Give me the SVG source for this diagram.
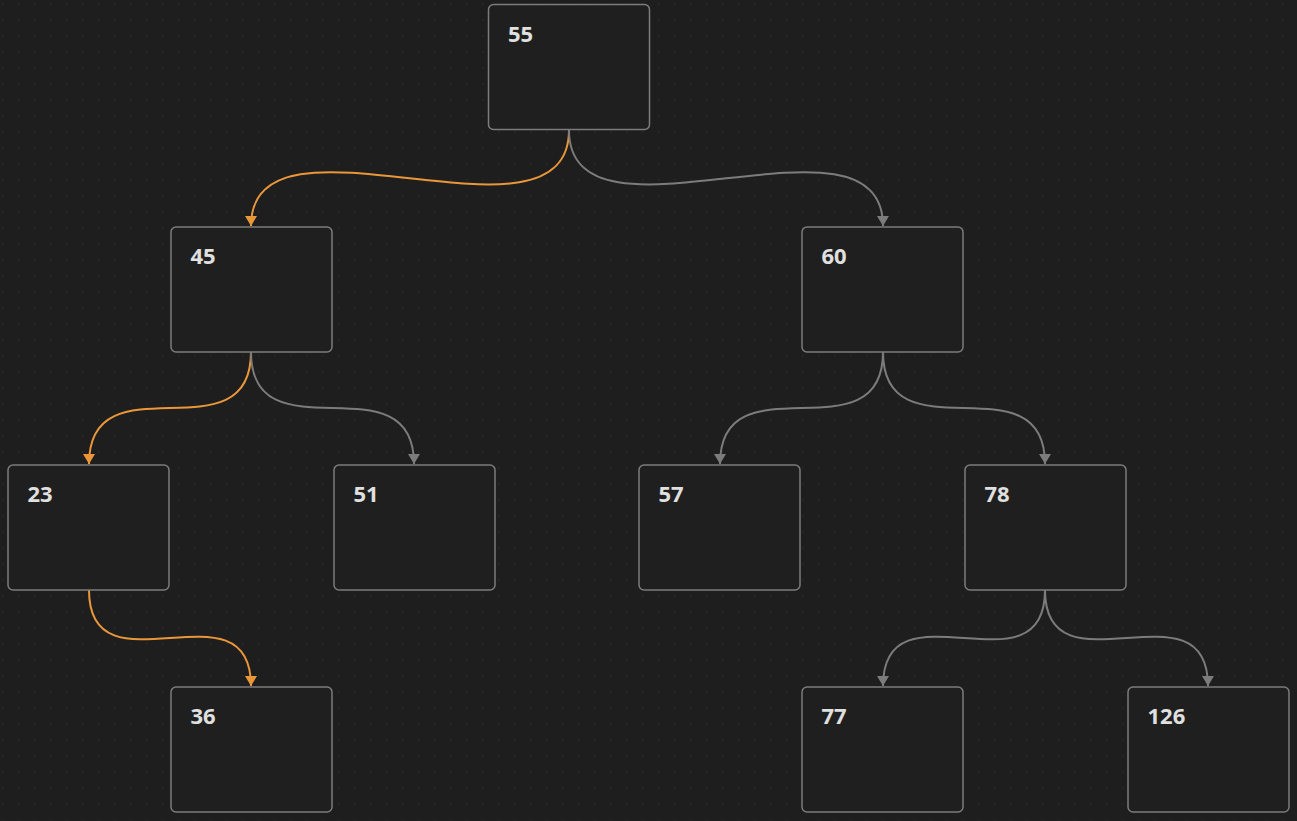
<svg xmlns="http://www.w3.org/2000/svg" width="1297" height="821" viewBox="0 0 1297 821">
<defs>
<pattern id="dots" x="2" y="3" width="16" height="16" patternUnits="userSpaceOnUse">
<circle cx="0.75" cy="0.75" r="0.75" fill="#2c2c2c"/>
</pattern>
<marker id="ao" viewBox="0 0 10 12" refX="10" refY="6" markerWidth="10" markerHeight="12" markerUnits="userSpaceOnUse" orient="auto">
<path d="M0,0 L10,6 L0,12 Z" fill="#ea973a"/>
</marker>
<marker id="ag" viewBox="0 0 10 12" refX="10" refY="6" markerWidth="10" markerHeight="12" markerUnits="userSpaceOnUse" orient="auto">
<path d="M0,0 L10,6 L0,12 Z" fill="#7c7c7c"/>
</marker>
</defs>
<style>
.box{fill:#1f1f1f;stroke:#7c7c7c;stroke-width:1.5}
.lbl{font-family:"Open Sans","Noto Sans",sans-serif;font-weight:700;font-size:22px;fill:#e0e0e0}
.eo{fill:none;stroke:#ea973a;stroke-width:2}
.eg{fill:none;stroke:#7c7c7c;stroke-width:2}
</style>
<rect width="1297" height="821" fill="#1e1e1e"/>
<rect width="1297" height="821" fill="url(#dots)"/>
<g id="connectors">
<path class="eo" d="M569,130 C569,262 251,95 251,226" marker-end="url(#ao)"/>
<path class="eg" d="M569,130 C569,262 883,95 883,226" marker-end="url(#ag)"/>
<path class="eo" d="M251,352 C251,460 89,356 89,464" marker-end="url(#ao)"/>
<path class="eg" d="M251,352 C251,460 414,356 414,464" marker-end="url(#ag)"/>
<path class="eg" d="M883,352 C883,460 720,356 720,464" marker-end="url(#ag)"/>
<path class="eg" d="M883,352 C883,460 1045,356 1045,464" marker-end="url(#ag)"/>
<path class="eo" d="M89,590 C89,698 251,578 251,686" marker-end="url(#ao)"/>
<path class="eg" d="M1045,590 C1045,698 883,578 883,686" marker-end="url(#ag)"/>
<path class="eg" d="M1045,590 C1045,698 1208,578 1208,686" marker-end="url(#ag)"/>
</g>
<g id="n55"><rect class="box" x="488.5" y="4.5" width="161" height="125" rx="5"/><text class="lbl" x="508" y="41.5">55</text></g>
<g id="n45"><rect class="box" x="171" y="227" width="161" height="125" rx="5"/><text class="lbl" x="190.5" y="263.5">45</text></g>
<g id="n60"><rect class="box" x="802" y="227" width="161" height="125" rx="5"/><text class="lbl" x="821.5" y="263.5">60</text></g>
<g id="n23"><rect class="box" x="8" y="465" width="161" height="125" rx="5"/><text class="lbl" x="27.5" y="501.5">23</text></g>
<g id="n51"><rect class="box" x="334" y="465" width="161" height="125" rx="5"/><text class="lbl" x="353.5" y="501.5">51</text></g>
<g id="n57"><rect class="box" x="639" y="465" width="161" height="125" rx="5"/><text class="lbl" x="658.5" y="501.5">57</text></g>
<g id="n78"><rect class="box" x="965" y="465" width="161" height="125" rx="5"/><text class="lbl" x="984.5" y="501.5">78</text></g>
<g id="n36"><rect class="box" x="171" y="687" width="161" height="125" rx="5"/><text class="lbl" x="190.5" y="723.5">36</text></g>
<g id="n77"><rect class="box" x="802" y="687" width="161" height="125" rx="5"/><text class="lbl" x="821.5" y="723.5">77</text></g>
<g id="n126"><rect class="box" x="1128" y="687" width="161" height="125" rx="5"/><text class="lbl" x="1147.5" y="723.5">126</text></g>
</svg>
